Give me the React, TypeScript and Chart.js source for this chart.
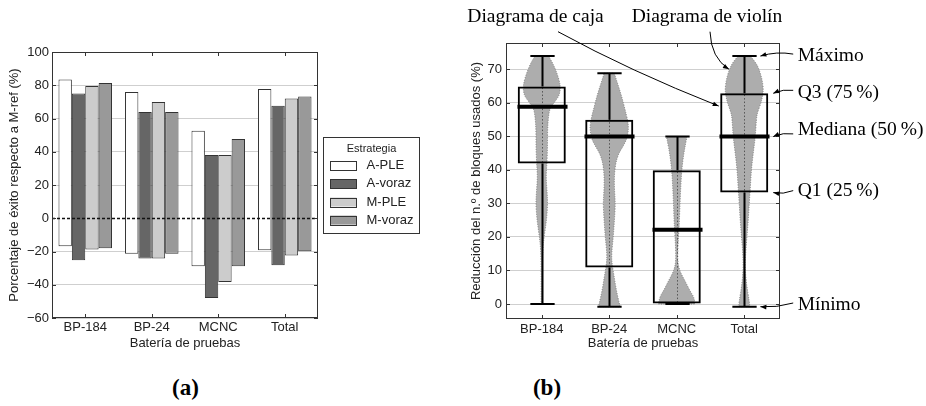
import React, { useEffect, useRef } from "react";
import { Chart, registerables } from "chart.js";

Chart.register(...registerables);

// ---------- Panel (a) data ----------
const batteries = ["BP-184", "BP-24", "MCNC", "Total"];
const strategies = ["A-PLE", "A-voraz", "M-PLE", "M-voraz"];
const successAPLE = [83.4, 76.0, 52.7, 77.8];
const failureAPLE = [-16.8, -21.4, -28.9, -19.2];
const successAVoraz = [75.0, 63.9, 38.1, 67.7];
const failureAVoraz = [-25.2, -24.2, -47.9, -28.3];
const successMPLE = [79.6, 69.9, 38.1, 72.1];
const failureMPLE = [-18.8, -24.2, -38.3, -22.4];
const successMVoraz = [81.4, 63.9, 47.7, 73.3];
const failureMVoraz = [-18.0, -21.4, -28.9, -19.8];
const strategyColors = ["#ffffff", "#666666", "#cccccc", "#999999"];

// ---------- Panel (b) data ----------
const boxMin = [0, -0.8, 0, -0.8];
const boxQ1 = [41.9, 10.9, 0, 33.2];
const boxMedian = [58.8, 49.9, 22.1, 49.9];
const boxQ3 = [64.8, 54.9, 39.9, 62.8];
const boxMax = [73.9, 68.8, 49.9, 73.9];

const violinBP184Levels = [73.9, 72, 69, 66, 64, 62, 60, 58.4, 56, 52, 47, 42, 38, 34, 30, 25, 20, 16, 10, 4, 0];
const violinBP184Widths = [0.35, 0.56, 0.78, 0.94, 0.97, 0.9, 0.64, 0.43, 0.35, 0.3, 0.3, 0.27, 0.22, 0.27, 0.31, 0.25, 0.12, 0.05, 0.03, 0.03, 0.03];
const violinBP24Levels = [68.8, 66, 62, 58, 55, 53, 51, 49, 47, 45, 42, 38, 34, 30, 25, 20, 15, 12, 8, 4, 0, -0.8];
const violinBP24Widths = [0.26, 0.42, 0.64, 0.82, 0.95, 1.0, 0.98, 0.9, 0.72, 0.5, 0.33, 0.26, 0.27, 0.32, 0.27, 0.21, 0.12, 0.14, 0.26, 0.37, 0.53, 0.56];
const violinMCNCLevels = [49.9, 48, 45, 40, 35, 30, 25, 22, 18, 13, 10, 7, 4, 2, 0];
const violinMCNCWidths = [0.53, 0.47, 0.37, 0.26, 0.21, 0.17, 0.14, 0.11, 0.07, 0.04, 0.14, 0.42, 0.68, 0.9, 0.95];
const violinTotalLevels = [73.9, 72, 70, 67, 64, 62, 60, 57, 55, 50, 45, 40, 35, 30, 25, 20, 15, 10, 5, 2, 0, -0.8];
const violinTotalWidths = [0.32, 0.6, 0.77, 0.93, 1.0, 0.95, 0.88, 0.68, 0.63, 0.58, 0.47, 0.37, 0.32, 0.26, 0.21, 0.14, 0.07, 0.05, 0.14, 0.23, 0.28, 0.28];

const violinLevels = [violinBP184Levels, violinBP24Levels, violinMCNCLevels, violinTotalLevels];
const violinWidths = [violinBP184Widths, violinBP24Widths, violinMCNCWidths, violinTotalWidths];

// annotation labels (right side of panel b)
const annotationLabels = ["Máximo", "Q3 (75\u2009%)", "Mediana (50\u2009%)", "Q1 (25\u2009%)", "Mínimo"];
const annotationTextValues = [73.9, 62.8, 51.9, 33.8, -0.3];

const SANS = "'Liberation Sans', Arial, sans-serif";
const SERIF = "'Liberation Serif', 'Times New Roman', serif";
const VIOLIN_MAX_HALF = 0.285;
const CAP_HALF = 0.18;
const CANVAS_B_LEFT = 440;

Chart.defaults.font.family = SANS;

const framePlugin = {
  id: "frame",
  afterDatasetsDraw(chart: any) {
    const { ctx, chartArea } = chart;
    const { left, right, top, bottom } = chartArea;
    const x = chart.scales.x;
    const y = chart.scales.y;
    ctx.save();
    ctx.strokeStyle = "#333";
    ctx.lineWidth = 1;
    ctx.setLineDash([]);
    ctx.beginPath();
    y.ticks.forEach((t: any) => {
      const py = Math.round(y.getPixelForValue(t.value)) + 0.5;
      ctx.moveTo(left, py);
      ctx.lineTo(left + 4, py);
      ctx.moveTo(right - 4, py);
      ctx.lineTo(right, py);
    });
    x.ticks.forEach((_t: any, i: number) => {
      const px = Math.round(x.getPixelForTick(i)) + 0.5;
      ctx.moveTo(px, top);
      ctx.lineTo(px, top + 4);
      ctx.moveTo(px, bottom - 4);
      ctx.lineTo(px, bottom);
    });
    ctx.stroke();
    ctx.strokeRect(Math.round(left) + 0.5, Math.round(top) + 0.5, Math.round(right - left) - 1, Math.round(bottom - top) - 1);
    ctx.restore();
  },
};

const zeroLinePlugin = {
  id: "zeroLine",
  afterDatasetsDraw(chart: any) {
    const { ctx, chartArea } = chart;
    const py = Math.round(chart.scales.y.getPixelForValue(0)) + 0.5;
    ctx.save();
    ctx.strokeStyle = "#111";
    ctx.lineWidth = 1.5;
    ctx.setLineDash([3, 2]);
    ctx.beginPath();
    ctx.moveTo(chartArea.left, py);
    ctx.lineTo(chartArea.right, py);
    ctx.stroke();
    ctx.restore();
  },
};

const legendPlugin = {
  id: "legendBox",
  afterDraw(chart: any) {
    const { ctx, chartArea } = chart;
    const bw = 96;
    const bh = 96;
    const bx = Math.round(chartArea.right + 5) + 0.5;
    const by = Math.round((chartArea.top + chartArea.bottom) / 2 - bh / 2) + 0.5;
    ctx.save();
    ctx.fillStyle = "#fff";
    ctx.fillRect(bx, by, bw, bh);
    ctx.strokeStyle = "#333";
    ctx.lineWidth = 1;
    ctx.strokeRect(bx, by, bw, bh);
    ctx.fillStyle = "#222";
    ctx.textAlign = "center";
    ctx.textBaseline = "middle";
    ctx.font = `11px ${SANS}`;
    ctx.fillText("Estrategia", bx + bw / 2, by + 11);
    chart.data.datasets.forEach((ds: any, k: number) => {
      const rowY = by + 28.3 + k * 18.1;
      ctx.fillStyle = ds.backgroundColor;
      ctx.fillRect(bx + 6.5, rowY - 4.5, 26.5, 9);
      ctx.strokeStyle = "#333";
      ctx.strokeRect(Math.round(bx + 6.5) + 0.5, Math.round(rowY - 4.5) + 0.5, 26, 9);
      ctx.fillStyle = "#222";
      ctx.textAlign = "left";
      ctx.font = `13px ${SANS}`;
      ctx.fillText(ds.label, bx + 43, rowY);
    });
    ctx.restore();
  },
};

function smoothSide(ctx: CanvasRenderingContext2D, pts: { x: number; y: number }[]) {
  for (let k = 1; k < pts.length - 1; k++) {
    const mx = (pts[k].x + pts[k + 1].x) / 2;
    const my = (pts[k].y + pts[k + 1].y) / 2;
    ctx.quadraticCurveTo(pts[k].x, pts[k].y, mx, my);
  }
  ctx.lineTo(pts[pts.length - 1].x, pts[pts.length - 1].y);
}

const violinPlugin = {
  id: "violins",
  beforeDatasetsDraw(chart: any) {
    const { ctx } = chart;
    const x = chart.scales.x;
    const y = chart.scales.y;
    const unit = x.getPixelForValue(1) - x.getPixelForValue(0);
    violinLevels.forEach((levels, i) => {
      const cx = x.getPixelForValue(i);
      const widths = violinWidths[i];
      const right = levels.map((lv, k) => ({ x: cx + widths[k] * VIOLIN_MAX_HALF * unit, y: y.getPixelForValue(lv) }));
      const left = levels.map((lv, k) => ({ x: cx - widths[k] * VIOLIN_MAX_HALF * unit, y: y.getPixelForValue(lv) })).reverse();
      ctx.save();
      ctx.beginPath();
      ctx.moveTo(left[left.length - 1].x, left[left.length - 1].y);
      ctx.lineTo(right[0].x, right[0].y);
      smoothSide(ctx, right);
      ctx.lineTo(left[0].x, left[0].y);
      smoothSide(ctx, left);
      ctx.closePath();
      ctx.fillStyle = "#adadad";
      ctx.fill();
      ctx.setLineDash([1, 1.5]);
      ctx.strokeStyle = "#7a7a7a";
      ctx.lineWidth = 1;
      ctx.stroke();
      ctx.beginPath();
      ctx.setLineDash([1.5, 2]);
      ctx.strokeStyle = "#555";
      ctx.moveTo(Math.round(cx) + 0.5, right[0].y);
      ctx.lineTo(Math.round(cx) + 0.5, right[right.length - 1].y);
      ctx.stroke();
      ctx.restore();
    });
  },
  afterDatasetsDraw(chart: any) {
    const { ctx } = chart;
    const x = chart.scales.x;
    const y = chart.scales.y;
    const unit = x.getPixelForValue(1) - x.getPixelForValue(0);
    const meta = chart.getDatasetMeta(0);
    ctx.save();
    ctx.strokeStyle = "#000";
    ctx.setLineDash([]);
    boxMedian.forEach((med, i) => {
      const cx = Math.round(x.getPixelForValue(i)) + 0.5;
      const half = meta.data[i].width / 2;
      const capHalf = CAP_HALF * unit;
      ctx.lineWidth = 2;
      ctx.beginPath();
      ctx.moveTo(cx, y.getPixelForValue(boxMax[i]));
      ctx.lineTo(cx, y.getPixelForValue(boxQ3[i]));
      ctx.moveTo(cx, y.getPixelForValue(boxQ1[i]));
      ctx.lineTo(cx, y.getPixelForValue(boxMin[i]));
      ctx.moveTo(cx - capHalf, y.getPixelForValue(boxMax[i]));
      ctx.lineTo(cx + capHalf, y.getPixelForValue(boxMax[i]));
      ctx.moveTo(cx - capHalf, y.getPixelForValue(boxMin[i]));
      ctx.lineTo(cx + capHalf, y.getPixelForValue(boxMin[i]));
      ctx.stroke();
      ctx.lineWidth = 4;
      ctx.beginPath();
      ctx.moveTo(cx - half - 1, y.getPixelForValue(med));
      ctx.lineTo(cx + half + 1, y.getPixelForValue(med));
      ctx.stroke();
    });
    ctx.restore();
  },
};

function arrow(ctx: CanvasRenderingContext2D, sx: number, sy: number, cx: number, cy: number, tx: number, ty: number) {
  ctx.beginPath();
  ctx.moveTo(sx, sy);
  ctx.quadraticCurveTo(cx, cy, tx, ty);
  ctx.stroke();
  const ang = Math.atan2(ty - cy, tx - cx);
  const len = 6;
  const hw = 2.3;
  ctx.beginPath();
  ctx.moveTo(tx, ty);
  ctx.lineTo(tx - len * Math.cos(ang) + hw * Math.sin(ang), ty - len * Math.sin(ang) - hw * Math.cos(ang));
  ctx.lineTo(tx - len * Math.cos(ang) - hw * Math.sin(ang), ty - len * Math.sin(ang) + hw * Math.cos(ang));
  ctx.closePath();
  ctx.fill();
}

const annotationPlugin = {
  id: "annotations",
  afterDraw(chart: any) {
    const { ctx, chartArea } = chart;
    const x = chart.scales.x;
    const y = chart.scales.y;
    const unit = x.getPixelForValue(1) - x.getPixelForValue(0);
    const last = batteries.length - 1;
    const cx = x.getPixelForValue(last);
    const boxHalf = chart.getDatasetMeta(0).data[last].width / 2;
    const capHalf = CAP_HALF * unit;
    ctx.save();
    ctx.fillStyle = "#000";
    ctx.strokeStyle = "#000";
    ctx.lineWidth = 1;
    ctx.font = `19.5px ${SERIF}`;
    ctx.textAlign = "left";
    ctx.textBaseline = "alphabetic";
    ctx.fillText("Diagrama de caja", 467.3 - CANVAS_B_LEFT, 21.7);
    ctx.fillText("Diagrama de violín", 631.7 - CANVAS_B_LEFT, 21.7);
    // box arrow
    const bTipX = cx - boxHalf - 1.5;
    const bTipY = y.getPixelForValue(59);
    arrow(ctx, 558 - CANVAS_B_LEFT, 31.7, 630 - CANVAS_B_LEFT, 71, bTipX, bTipY);
    // violin arrow
    const vTipX = cx - 0.77 * VIOLIN_MAX_HALF * unit - 0.5;
    const vTipY = y.getPixelForValue(70);
    arrow(ctx, 710 - CANVAS_B_LEFT, 31.7, 711 - CANVAS_B_LEFT, 58, vTipX, vTipY);

    // right-side labels
    const textX = chartArea.right + 17.7;
    const stats = [boxMax[last], boxQ3[last], boxMedian[last], boxQ1[last], boxMin[last]];
    const tipXs = [cx + capHalf + 4, cx + boxHalf + 5, cx + boxHalf + 5, cx + boxHalf + 5, cx + capHalf + 4];
    const startDy = [-2, -3, 4, 0, -2];
    const bends = [-4, -3, -3, 3, 3];
    ctx.textBaseline = "middle";
    annotationLabels.forEach((lab, k) => {
      const ty = y.getPixelForValue(annotationTextValues[k]);
      ctx.fillText(lab, textX, ty);
      const sx = textX - 4.5;
      const sy = ty + startDy[k];
      const tx = tipXs[k];
      const tipY = y.getPixelForValue(stats[k]);
      arrow(ctx, sx, sy, (sx + tx) / 2, (sy + tipY) / 2 + bends[k], tx, tipY);
    });
    ctx.restore();
  },
};

function configA(): any {
  const successes = [successAPLE, successAVoraz, successMPLE, successMVoraz];
  const failures = [failureAPLE, failureAVoraz, failureMPLE, failureMVoraz];
  return {
    type: "bar",
    data: {
      labels: batteries,
      datasets: strategies.map((s, k) => ({
        label: s,
        data: successes[k].map((v, i) => [failures[k][i], v]),
        backgroundColor: strategyColors[k],
        borderColor: "#333",
        borderWidth: 1,
        borderSkipped: false,
        categoryPercentage: 0.805,
        barPercentage: 1.0,
      })),
    },
    options: {
      responsive: false,
      animation: false,
      events: [],
      layout: { padding: { left: 3, top: 52, right: 122, bottom: 0 } },
      plugins: { legend: { display: false }, tooltip: { enabled: false } },
      scales: {
        x: {
          grid: { display: false, drawTicks: false },
          border: { display: false },
          ticks: { color: "#222", font: { size: 13 }, padding: 2, maxRotation: 0 },
          title: { display: true, text: "Batería de pruebas", color: "#222", font: { size: 13 }, padding: { top: 0, bottom: 9 } },
          afterFit: (s: any) => { s.height = 42; },
        },
        y: {
          min: -60,
          max: 100,
          grid: {
            drawTicks: false,
            color: (c: any) => (c.tick && c.tick.value === 0 ? "rgba(0,0,0,0)" : "#cfcfcf"),
          },
          border: { display: false },
          ticks: {
            stepSize: 20,
            color: "#222",
            font: { size: 13 },
            padding: 3,
            callback: (v: number) => (v < 0 ? "\u2212" + Math.abs(v) : String(v)),
          },
          title: { display: true, text: "Porcentaje de éxito respecto a M-ref (%)", color: "#222", font: { size: 13 }, padding: { top: 4, bottom: 0 } },
          afterFit: (s: any) => { s.width = 49; },
        },
      },
    },
    plugins: [zeroLinePlugin, framePlugin, legendPlugin],
  };
}

function configB(): any {
  return {
    type: "bar",
    data: {
      datasets: [
        {
          label: "Diagrama de caja",
          data: boxQ1.map((q1, i) => ({ x: i, y: [q1, boxQ3[i]] })),
          backgroundColor: "rgba(0,0,0,0)",
          borderColor: "#000",
          borderWidth: 2,
          borderSkipped: false,
          categoryPercentage: 0.8,
          barPercentage: 0.89,
        },
      ],
    },
    options: {
      responsive: false,
      animation: false,
      events: [],
      layout: { padding: { left: 26, top: 43, right: 146, bottom: 0 } },
      plugins: { legend: { display: false }, tooltip: { enabled: false } },
      scales: {
        x: {
          type: "linear",
          min: -0.53,
          max: 3.53,
          offset: false,
          grid: { display: false, drawTicks: false },
          border: { display: false },
          ticks: {
            stepSize: 1,
            includeBounds: false,
            color: "#222",
            font: { size: 13 },
            padding: 3,
            maxRotation: 0,
            autoSkip: false,
            callback: (v: number) => (Number.isInteger(v) && batteries[v] !== undefined ? batteries[v] : ""),
          },
          title: { display: true, text: "Batería de pruebas", color: "#222", font: { size: 13 }, padding: { top: 0, bottom: 9 } },
          afterFit: (s: any) => { s.height = 41; },
        },
        y: {
          min: -4.47,
          max: 77.8,
          grid: { drawTicks: false, color: "#cfcfcf" },
          border: { display: false },
          ticks: { stepSize: 10, includeBounds: false, color: "#222", font: { size: 13 }, padding: 4 },
          title: { display: true, text: "Reducción del n.º de bloques usados (%)", color: "#222", font: { size: 13 }, padding: { top: 3, bottom: 0 } },
          afterFit: (s: any) => { s.width = 40; },
        },
      },
    },
    plugins: [violinPlugin, framePlugin, annotationPlugin],
  };
}

export default function App() {
  const refA = useRef<HTMLCanvasElement>(null);
  const refB = useRef<HTMLCanvasElement>(null);
  useEffect(() => {
    const a = new Chart(refA.current as HTMLCanvasElement, configA());
    const b = new Chart(refB.current as HTMLCanvasElement, configB());
    return () => {
      a.destroy();
      b.destroy();
    };
  }, []);
  const labelStyle: React.CSSProperties = {
    position: "absolute",
    top: 374,
    width: 100,
    textAlign: "center",
    font: `bold 23px ${SERIF}`,
    lineHeight: "28px",
    color: "#000",
  };
  return (
    <div style={{ position: "absolute", left: 0, top: 0, width: 926, height: 406, background: "#fff", overflow: "hidden" }}>
      <canvas ref={refA} width={440} height={360} style={{ position: "absolute", left: 0, top: 0, width: 440, height: 360 }} />
      <canvas ref={refB} width={486} height={360} style={{ position: "absolute", left: CANVAS_B_LEFT, top: 0, width: 486, height: 360 }} />
      <div style={{ ...labelStyle, left: 135.5 }}>(a)</div>
      <div style={{ ...labelStyle, left: 497 }}>(b)</div>
    </div>
  );
}
